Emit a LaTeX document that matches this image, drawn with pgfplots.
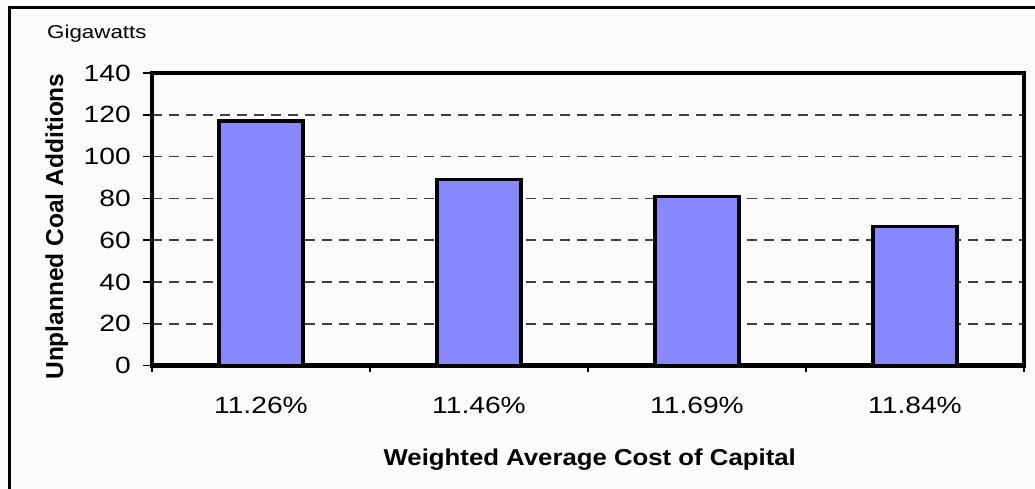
\documentclass[border=0pt]{standalone}
\usepackage{fontspec}
\setmainfont{Liberation Sans}
\usepackage{pgfplots}
\pgfplotsset{compat=1.18}
\definecolor{barfill}{RGB}{136,136,255}
\definecolor{bg}{RGB}{252,252,252}
\begin{document}
\begin{tikzpicture}[x=1pt,y=1pt]
\useasboundingbox (0,0) rectangle (1035,489);
\fill[bg] (0,0) rectangle (1035,489);
\draw[line width=2.5pt] (9.5,-20) -- (9.5,481.5) -- (1100,481.5);
\begin{axis}[
  at={(152pt,123.5pt)}, anchor=south west,
  scale only axis, width=872pt, height=292.5pt,
  xmin=-0.5, xmax=3.5, ymin=0, ymax=140,
  ytick={0,20,...,140},
  xtick={0,1,2,3},
  xticklabels={11.26\%,11.46\%,11.69\%,11.84\%},
  minor xtick={-0.5,0.5,1.5,2.5,3.5},
  xtick pos=bottom, ytick pos=left,
  tick align=outside,
  major tick length=9pt, minor tick length=7pt,
  major x tick style={draw=none},
  minor x tick style={line width=1.5pt, black},
  ytick style={line width=1.5pt, black},
  axis line style={line width=4.5pt},
  ymajorgrids,
  major grid style={line width=1.6pt, black!75, dash pattern=on 10pt off 7pt},
  /pgf/number format/assume math mode=true,
  tick label style={font=\fontsize{23.5}{23.5}\selectfont, xscale=1.2, inner sep=0pt},
  yticklabel style={anchor=east, xshift=-10pt},
  xticklabel style={anchor=base, yshift=-38.5pt},
  ylabel={Unplanned Coal Additions},
  ylabel style={at={(axis description cs:-0.102,0.475)}, anchor=base, rotate=0, font=\bfseries\fontsize{24.5}{24.5}\selectfont},
  xlabel={Weighted Average Cost of Capital},
  xlabel style={at={(axis description cs:0.502,-0.3426)}, anchor=base, font=\bfseries\fontsize{23}{23}\selectfont, xscale=1.12},
  title={Gigawatts},
  title style={at={(axis description cs:-0.1204,1.0957)}, anchor=base west, font=\fontsize{18.6}{18.6}\selectfont, xscale=1.2, inner sep=0pt},
]
\addplot[ybar, bar width=84pt, fill=barfill, draw=black, line width=3.5pt]
  coordinates {(0,117) (1,89) (2,81) (3,66.5)};
\end{axis}
\end{tikzpicture}
\end{document}
